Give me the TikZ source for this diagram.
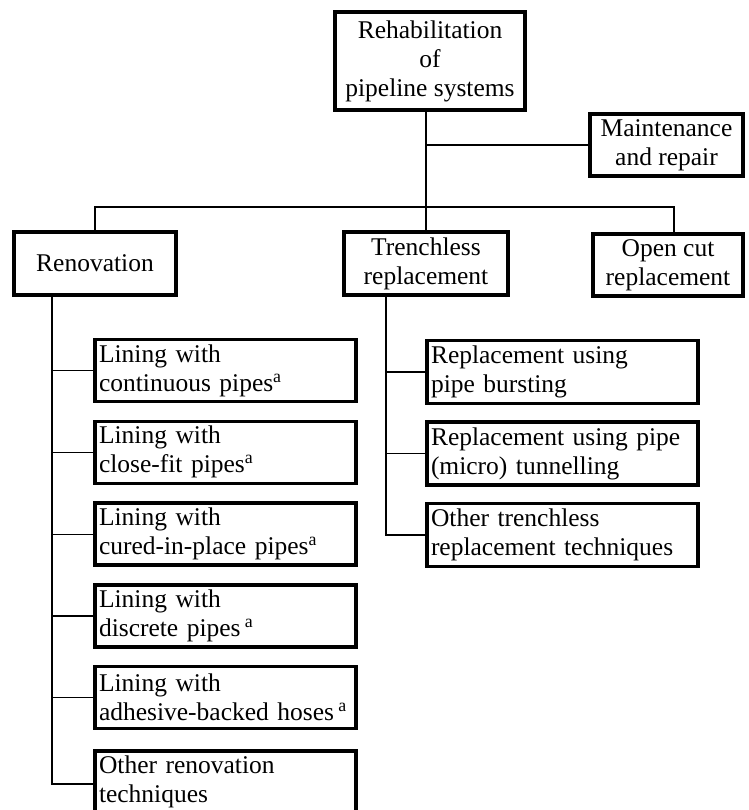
\documentclass[tikz,border=0pt]{standalone}
\usepackage{fontspec}
\setmainfont{Liberation Serif}
\usepackage{tikz}
\usetikzlibrary{calc,positioning}

\begin{document}
\begin{tikzpicture}[x=1pt,y=-1pt,
    font=\fontsize{25.5}{29}\selectfont,
    box/.style={draw,line width=3.5pt,inner sep=4pt,align=center},
    leafbox/.style={box,align=left,minimum height=62pt},
    link/.style={line width=1.2pt}]
  \useasboundingbox (0,0) rectangle (748,810);
  \clip (0,0) rectangle (748,810);
  % top level
  \node[box,minimum width=190pt,minimum height=98pt] (rehab) at (430,61)
    {Rehabilitation\\of\\pipeline systems};
  \node[box,minimum width=153pt,minimum height=62pt] (maint) at (666.5,145)
    {Maintenance\\and repair};
  % second level
  \node[box,minimum width=162pt,minimum height=63pt] (renov) at (95,263.5) {Renovation};
  \node[box,minimum width=164pt,minimum height=63pt] (trench) at (426,263.5)
    {Trenchless\\replacement};
  \node[box,minimum width=150pt,minimum height=62pt] (open) at (668,265)
    {Open cut\\replacement};
  % renovation techniques
  \foreach \i/\txt in {1/{Lining with\\continuous pipes\textsuperscript{a}},
                       2/{Lining with\\close-fit pipes\textsuperscript{a}},
                       3/{Lining with\\cured-in-place pipes\textsuperscript{a}},
                       4/{Lining with\\discrete pipes\,\textsuperscript{a}},
                       5/{Lining with\\adhesive-backed hoses\,\textsuperscript{a}}}
    \node[leafbox,minimum width=261pt,text width=253pt] (rl\i) at (225.5,{370.5+81.8*(\i-1)}) {\txt};
  \node[leafbox,minimum width=261pt,text width=253pt] (rl6) at (225.5,782)
    {Other renovation\\techniques};
  % trenchless techniques
  \foreach \i/\txt in {1/{Replacement using\\pipe bursting},
                       2/{Replacement using pipe\\(micro) tunnelling},
                       3/{Other trenchless\\replacement techniques}}
    \node[leafbox,minimum width=271pt,minimum height=63pt,text width=263pt] (tl\i) at (562.5,{372+81.5*(\i-1)}) {\txt};
  % connectors
  \coordinate (busR) at (674,207);
  \coordinate (rtrunk) at (52,295);
  \coordinate (ttrunk) at (386,295);
  \draw[link] (rehab.south -| trench.north) -- (trench.north);
  \draw[link] (maint.west) -- (maint.west -| trench.north);
  \draw[link] (renov.north) |- (busR) -- (busR |- open.north);
  \draw[link] (rtrunk) |- ([yshift=-2pt]rl6.west);
  \foreach \i in {1,...,5}{\draw[link] (rl\i.west) -- (rl\i.west -| rtrunk);}
  \draw[link] (ttrunk) |- (tl3.west);
  \foreach \i in {1,2}{\draw[link] (tl\i.west) -- (tl\i.west -| ttrunk);}
\end{tikzpicture}
\end{document}
